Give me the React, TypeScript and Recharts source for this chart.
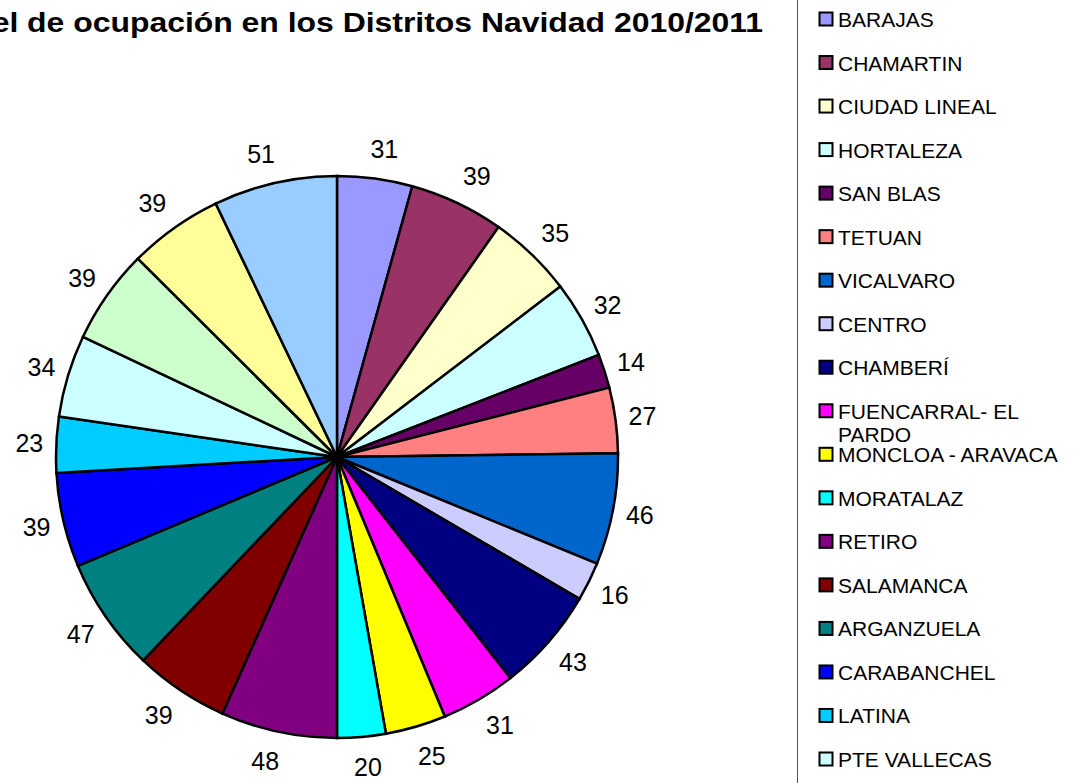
import { PieChart, Pie, Cell, Legend } from 'recharts';

// distritos en el orden de la leyenda (las tres últimas no caben en la leyenda visible)
const NAMES = [
  'BARAJAS',
  'CHAMARTIN',
  'CIUDAD LINEAL',
  'HORTALEZA',
  'SAN BLAS',
  'TETUAN',
  'VICALVARO',
  'CENTRO',
  'CHAMBERÍ',
  'FUENCARRAL- EL PARDO',
  'MONCLOA - ARAVACA',
  'MORATALAZ',
  'RETIRO',
  'SALAMANCA',
  'ARGANZUELA',
  'CARABANCHEL',
  'LATINA',
  'PTE VALLECAS',
  'USERA',
  'VILLA DE VALLECAS',
  'VILLAVERDE',
];

const VALUES = [31, 39, 35, 32, 14, 27, 46, 16, 43, 31, 25, 20, 48, 39, 47, 39, 23, 34, 39, 39, 51];

const FILLS = [
  '#9999FF', '#993366', '#FFFFCC', '#CCFFFF', '#660066', '#FF8080', '#0066CC',
  '#CCCCFF', '#000080', '#FF00FF', '#FFFF00', '#00FFFF', '#800080', '#800000',
  '#008080', '#0000FF', '#00CCFF', '#CCFFFF', '#CCFFCC', '#FFFF99', '#99CCFF',
];

const TITLE = 'Nivel de ocupación en los Distritos Navidad 2010/2011';

const FONT = '"Liberation Sans", Arial, sans-serif';

const data = NAMES.map((name, i) => ({ name, value: VALUES[i] }));

const RAD = Math.PI / 180;

function renderLabel(props: any) {
  const { cx, cy, midAngle, outerRadius, value } = props;
  const c = Math.cos(-midAngle * RAD);
  const s = Math.sin(-midAngle * RAD);
  // etiqueta fuera del borde, como en Excel (caja desplazada hacia fuera)
  const x = cx + (outerRadius + 11) * c + 16 * Math.tanh(4 * c);
  const y = cy + (outerRadius + 30) * s;
  return (
    <text
      x={x}
      y={y}
      textAnchor="middle"
      dominantBaseline="central"
      fontFamily={FONT}
      fontSize={25}
      fill="#000"
    >
      {value}
    </text>
  );
}

function LegendBox() {
  const step = 43.53;
  return (
    <svg width={320} height={1000} style={{ display: 'block', overflow: 'visible' }}>
      <rect x={0.5} y={-10} width={310} height={1010} fill="#fff" stroke="#555" strokeWidth={1} />
      {NAMES.map((name, i) => {
        const cyy = 21.5 + step * i;
        const wrap = name === 'FUENCARRAL- EL PARDO';
        return (
          <g key={name}>
            <rect x={22.5} y={cyy - 7} width={13} height={13} fill={FILLS[i]} stroke="#000" strokeWidth={2} />
            <text x={41} y={cyy + 7.5} fontFamily={FONT} fontSize={21} fill="#000">
              {wrap ? (
                <>
                  <tspan x={41}>FUENCARRAL- EL</tspan>
                  <tspan x={41} dy={23}>PARDO</tspan>
                </>
              ) : (
                name
              )}
            </text>
          </g>
        );
      })}
    </svg>
  );
}

export default function App() {
  return (
    <div
      style={{
        position: 'fixed',
        left: 0,
        top: 0,
        width: 1083,
        height: 783,
        overflow: 'hidden',
        background: '#fff',
      }}
    >
      <svg
        width={1083}
        height={60}
        style={{ position: 'absolute', left: 0, top: 0 }}
      >
        <text
          x={763}
          y={32}
          textAnchor="end"
          textLength={821}
          lengthAdjust="spacingAndGlyphs"
          fontFamily={FONT}
          fontWeight="bold"
          fontSize={28}
          fill="#000"
        >
          {TITLE}
        </text>
      </svg>
      <PieChart
        width={1083}
        height={783}
        margin={{ top: 0, right: 0, bottom: 0, left: 0 }}
        style={{ position: 'absolute', left: 0, top: 0 }}
      >
        <Pie
          data={data}
          dataKey="value"
          nameKey="name"
          cx={337}
          cy={457}
          outerRadius={281}
          startAngle={90}
          endAngle={-270}
          stroke="#000"
          strokeWidth={2.5}
          label={renderLabel}
          labelLine={false}
          isAnimationActive={false}
        >
          {data.map((d, i) => (
            <Cell key={d.name} fill={FILLS[i]} />
          ))}
        </Pie>
        <Legend
          content={() => <LegendBox />}
          wrapperStyle={{ position: 'absolute', left: 797, top: -2, width: 320, height: 1000 }}
        />
      </PieChart>
    </div>
  );
}
